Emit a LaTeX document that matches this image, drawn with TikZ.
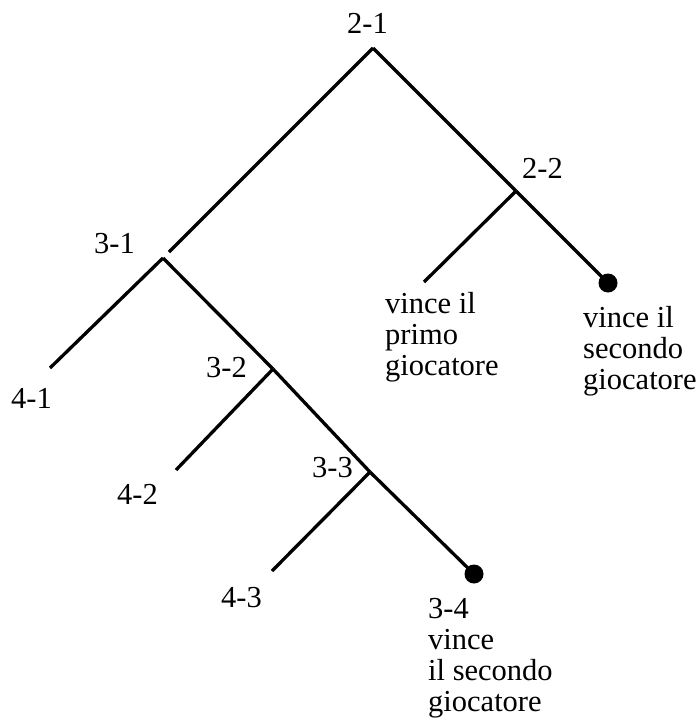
\documentclass[tikz,border=0pt]{standalone}
\usepackage{fontspec}
\setmainfont{Liberation Serif}
\begin{document}
\begin{tikzpicture}[x=1pt,y=-1pt,
  edge/.style={line width=3.3pt},
  lbl/.style={font=\fontsize{30.5}{31}\selectfont, inner sep=0pt, anchor=base west, align=left},
  leafdot/.style={circle, fill=black, minimum size=19pt, inner sep=0pt}]
\useasboundingbox (0,0) rectangle (699,718);
% junctions and branch ends
\coordinate (n21) at (373,48);
\coordinate (g31) at (169,252);
\coordinate (n31) at (163,258);
\coordinate (n22) at (516,191);
\coordinate (n32) at (273,369);
\coordinate (n33) at (370,472);
\coordinate (e41) at (50,368);
\coordinate (e42) at (176,470);
\coordinate (e43) at (272,571);
\coordinate (eP) at (424,282);
\node[leafdot] (d22) at (608,283) {};
\node[leafdot] (d34) at (474,574) {};
% edges
\draw[edge] (n21) -- (g31);
\draw[edge] (n21) -- (n22);
\draw[edge] (n31) -- (e41);
\draw[edge] (n31) -- (n32);
\draw[edge] (n32) -- (e42);
\draw[edge] (n32) -- (n33);
\draw[edge] (n33) -- (e43);
\draw[edge] (n33) -- (d34.center);
\draw[edge] (n22) -- (eP);
\draw[edge] (n22) -- (d22.center);
% labels (base = baseline of last line)
\node[lbl] (l21) at (347,33) {2-1};
\node[lbl] (l22) at (522,178) {2-2};
\node[lbl] (l31) at (94,253) {3-1};
\node[lbl] (l32) at (206,377) {3-2};
\node[lbl] (l33) at (312,477) {3-3};
\node[lbl] (l41) at (11,408) {4-1};
\node[lbl] (l42) at (117,504) {4-2};
\node[lbl] (l43) at (221,607) {4-3};
\node[lbl] (lP) at (385,375) {vince il\\primo\\giocatore};
\node[lbl] (lS) at (583,389) {vince il\\secondo\\giocatore};
\node[lbl] (l34) at (428,711) {3-4\\vince\\il secondo\\giocatore};
\end{tikzpicture}
\end{document}
